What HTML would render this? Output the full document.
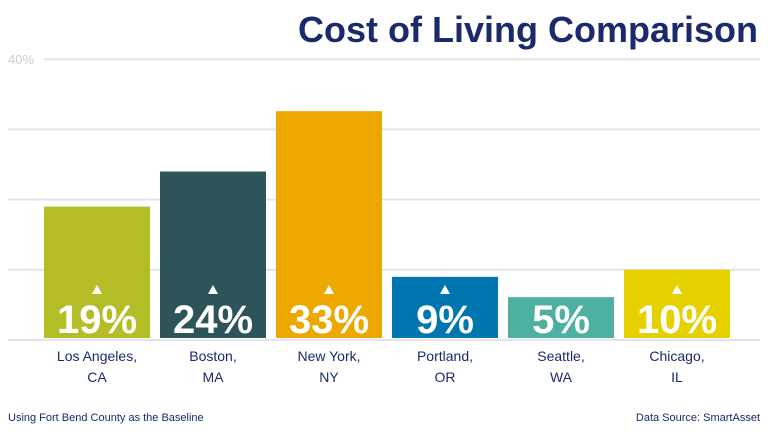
<!DOCTYPE html>
<html><head><meta charset="utf-8"><style>
body{margin:0;background:#fff;font-family:"Liberation Sans",sans-serif}
svg{display:block}
</style></head><body>
<svg id="c" width="775" height="437">
<text x="758" y="42" text-anchor="end" font-size="36" font-weight="bold" fill="#1b2a6b">Cost of Living Comparison</text>
<g id="grid"></g><g id="bars"></g>
<text x="8" y="421" font-size="11" fill="#1b2a6b">Using Fort Bend County as the Baseline</text>
<text x="760" y="421" text-anchor="end" font-size="11" fill="#1b2a6b">Data Source: SmartAsset</text>
</svg>
<script>
const cities=["Los Angeles,","Boston,","New York,","Portland,","Seattle,","Chicago,"];
const states=["CA","MA","NY","OR","WA","IL"];
const values=[19,24,32.6,9,6.1,10];
const labels=["19%","24%","33%","9%","5%","10%"];
const colors=["#b5bd26","#2d5459","#eca800","#0076b0","#4db0a0","#e6d100"];
const ticks=[0,10,20,30,40];
const NS="http://www.w3.org/2000/svg";
const y=v=>340-v*7.02;
const x=i=>44+i*116;
function mk(t,a,p){const e=document.createElementNS(NS,t);for(const k in a)e.setAttribute(k,a[k]);p.appendChild(e);return e;}
const g=document.getElementById('grid'),b=document.getElementById('bars');
ticks.forEach(t=>{
 const l=mk('line',{x1:t===40?44:8,x2:760,y1:y(t),y2:y(t),stroke:'#e3e5e8','stroke-width':2},g);
 
 
});
const tl=mk('text',{x:8,y:y(40)+5,'font-size':13,fill:'#c9ced6'},g);tl.textContent='40%';


values.forEach((v,i)=>{
 const cx=x(i)+53;
 const r=mk('rect',{x:x(i),y:y(v),width:106,height:338-y(v),fill:colors[i]},b);
 
 
 const tr=mk('polygon',{points:`${cx-5},294 ${cx+5},294 ${cx},285`,fill:'#fff'},b);
 
 
 const t=mk('text',{x:cx,y:333,'text-anchor':'middle','font-size':40,'font-weight':'bold',fill:'#fff'},b);t.textContent=labels[i];
 
 
 const c=mk('text',{x:cx,y:361,'text-anchor':'middle','font-size':14,fill:'#1b2a6b'},b);c.textContent=cities[i];
 
 
 const s=mk('text',{x:cx,y:382,'text-anchor':'middle','font-size':14,fill:'#1b2a6b'},b);s.textContent=states[i];
 
 
});
</script>
</body></html>
